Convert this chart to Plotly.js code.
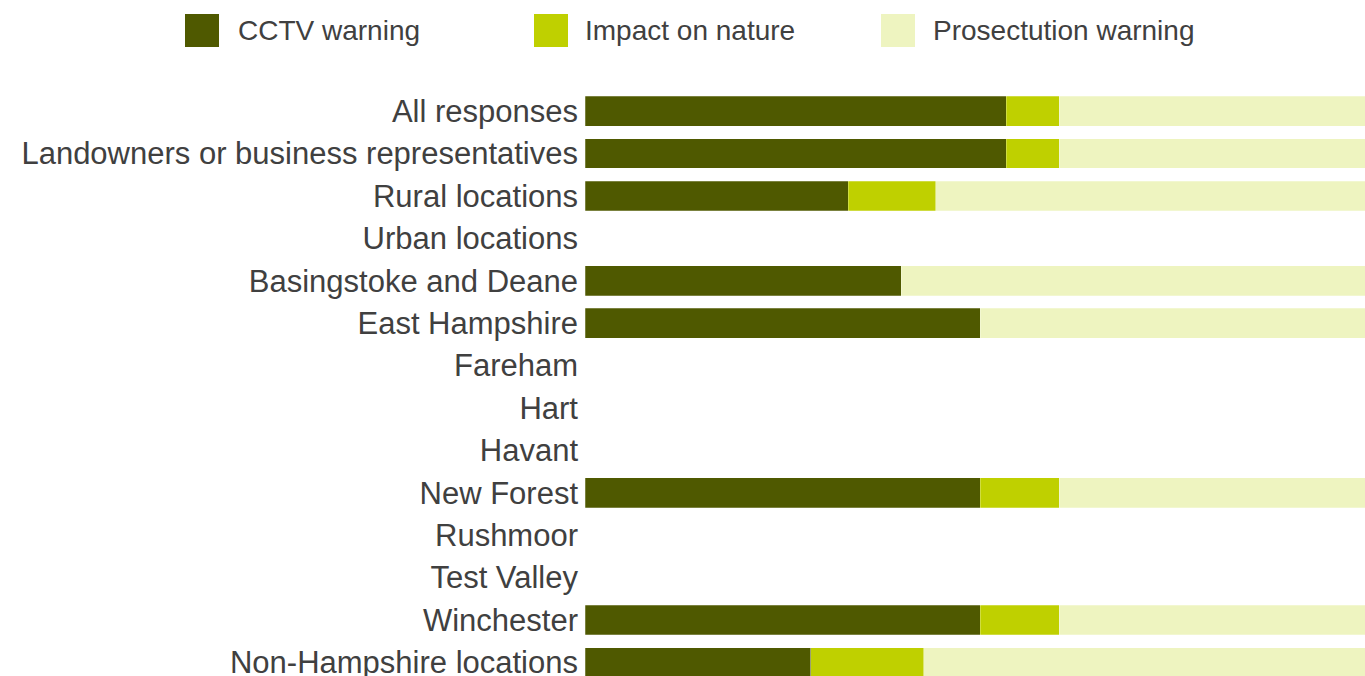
<!DOCTYPE html>
<html>
<head>
<meta charset="utf-8">
<script src="https://cdn.plot.ly/plotly-3.0.1.min.js"></script>
<style>html,body{margin:0;padding:0;background:#fff;}#chart{width:1365px;height:676px;}</style>
</head>
<body>
<div id="chart"></div>
<script>
var categories = ["All responses","Landowners or business representatives","Rural locations","Urban locations","Basingstoke and Deane","East Hampshire","Fareham","Hart","Havant","New Forest","Rushmoor","Test Valley","Winchester","Non-Hampshire locations"];
var seriesNames = ["CCTV warning","Impact on nature","Prosectution warning"];
var cctv =        [53.3, 53.3, 33.3, null, 40, 50, null, null, null, 50, null, null, 50, 28.6];
var impact =      [6.7,  6.7,  11.1, null, 0,  0,  null, null, null, 10, null, null, 10, 14.3];
var prosecution = [40,   40,   55.6, null, 60, 50, null, null, null, 40, null, null, 40, 57.1];
var colors = ["#4F5900", "#BFD000", "#EEF4C0"];

var W = 1365, H = 676, L = 585, T = 90;
var plotW = W - L, plotH = H - T;
function px2x(px){ return (px - L) / plotW; }
function py2y(py){ return (H - py) / plotH; }

var values = [cctv, impact, prosecution];
var traces = values.map(function(v, i){
  return {
    type: 'bar', orientation: 'h',
    y: categories, x: v, name: seriesNames[i],
    marker: {color: colors[i], line: {color: 'rgba(255,255,255,0.5)', width: 0.5}},
    width: 0.7, showlegend: false, hoverinfo: 'x+y+name'
  };
});

var FONT = '"Liberation Sans", Arial, sans-serif';
var legX = [185, 534, 881];
var textX = [236, 583, 931];
var shapes = [], annotations = [];
seriesNames.forEach(function(n, i){
  shapes.push({type:'rect', xref:'paper', yref:'paper',
    x0: px2x(legX[i]), x1: px2x(legX[i] + 34), y0: py2y(47), y1: py2y(14),
    fillcolor: colors[i], line: {width: 0}});
  annotations.push({xref:'paper', yref:'paper', x: px2x(textX[i]), y: py2y(31),
    xanchor:'left', yanchor:'middle', showarrow:false, text: n,
    font:{family: FONT, size:28, color:'#404040'}});
});

var layout = {
  width: W, height: H,
  margin: {l: L, r: 0, t: T, b: 0, pad: 0},
  barmode: 'stack',
  paper_bgcolor: '#fff', plot_bgcolor: '#fff',
  font: {family: FONT, color: '#404040'},
  xaxis: {range: [0, 98.73], showgrid: false, zeroline: false, showticklabels: false, showline: false, fixedrange: true},
  yaxis: {type: 'category', categoryorder: 'array', categoryarray: categories,
    range: [13.32, -0.5], showgrid: false, zeroline: false, showline: false,
    ticks: '', ticklabelstandoff: 6, tickfont: {family: FONT, size: 31, color: '#404040'}},
  shapes: shapes, annotations: annotations,
  showlegend: false
};
Plotly.newPlot('chart', traces, layout, {displayModeBar: false, staticPlot: true});
</script>
</body>
</html>
